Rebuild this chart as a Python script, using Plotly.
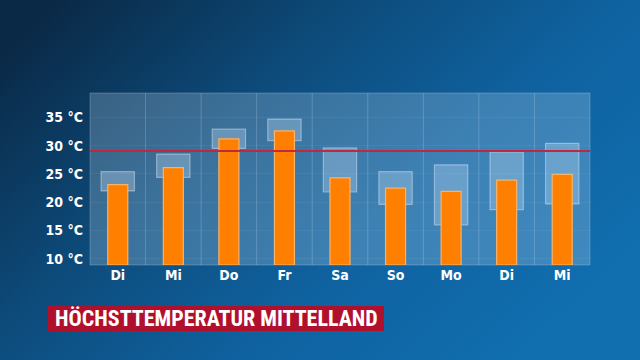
import base64
import plotly.graph_objects as go

days = ["Di", "Mi", "Do", "Fr", "Sa", "So", "Mo", "Di", "Mi"]
tmax = [23.1, 26.1, 31.2, 32.6, 24.3, 22.5, 21.9, 23.9, 24.9]
range_low = [22.0, 24.4, 29.5, 30.9, 21.8, 19.6, 16.0, 18.7, 19.7]
range_high = [25.4, 28.5, 32.9, 34.7, 29.6, 25.4, 26.6, 28.9, 30.4]
ref_line = 29.05
y_ticks = [10, 15, 20, 25, 30, 35]
y_tick_labels = ["10 °C", "15 °C", "20 °C", "25 °C", "30 °C", "35 °C"]
title_text = "HÖCHSTTEMPERATUR MITTELLAND"

Y_MIN, Y_MAX = 8.9, 39.3
x_pos = list(range(len(days)))

svg = """<svg xmlns='http://www.w3.org/2000/svg' width='640' height='360' viewBox='0 0 640 360' preserveAspectRatio='none'>
<defs>
<linearGradient id='g' x1='0' y1='0.15' x2='1' y2='0.75'>
<stop offset='0' stop-color='#0a2946'/>
<stop offset='0.35' stop-color='#0d4c7c'/>
<stop offset='0.65' stop-color='#0f62a0'/>
<stop offset='1' stop-color='#116fb0'/>
</linearGradient>
</defs>
<rect width='640' height='360' fill='url(#g)'/>
</svg>"""
src = "data:image/svg+xml;base64," + base64.b64encode(svg.encode()).decode()

L, R, T, B = 90, 50, 93, 95
W, H = 640, 360
pw, ph = W - L - R, H - T - B

def px(xp):
    return (xp - L) / pw

def py(yp):
    return (H - B - yp) / ph

fig = go.Figure()

fig.add_trace(go.Bar(
    x=x_pos, y=[h - l for h, l in zip(range_high, range_low)], base=range_low,
    width=0.6, marker=dict(color="rgba(200,225,245,0.32)",
                           line=dict(color="rgba(220,235,250,0.45)", width=1.2)),
    hoverinfo="skip", showlegend=False))

fig.add_trace(go.Bar(
    x=x_pos, y=[t - Y_MIN for t in tmax], base=Y_MIN,
    width=0.36, marker=dict(color="#ff7f00", line=dict(color="#f7b36a", width=1.2)),
    showlegend=False))

fig.add_shape(type="line", xref="paper", yref="y", x0=0, x1=1, y0=ref_line, y1=ref_line,
              line=dict(color="#c0283f", width=2), layer="above")

# plot area panel
fig.add_shape(type="rect", xref="paper", yref="paper", x0=0, x1=1, y0=0, y1=1,
              fillcolor="rgba(200,225,245,0.25)",
              line=dict(color="rgba(220,235,250,0.25)", width=1), layer="below")
# vertical separators
for i in range(1, len(days)):
    fig.add_shape(type="line", xref="x", yref="paper", x0=i - 0.5, x1=i - 0.5, y0=0, y1=1,
                  line=dict(color="rgba(220,235,250,0.22)", width=1), layer="below")

# title banner
fig.add_shape(type="rect", xref="paper", yref="paper",
              x0=px(48), x1=px(384), y0=py(331), y1=py(306),
              fillcolor="#b0102c", line=dict(width=0), layer="above")
fig.add_annotation(xref="paper", yref="paper", x=px(216), y=py(318.5),
                   text="<b>" + title_text + "</b>", showarrow=False,
                   font=dict(family="Liberation Sans Narrow, Roboto Condensed, DejaVu Sans Condensed",
                             size=22, color="white"),
                   xanchor="center", yanchor="middle")

fig.update_layout(
    width=W, height=H,
    margin=dict(l=L, r=R, t=T, b=B),
    paper_bgcolor="#0d4c7c",
    plot_bgcolor="rgba(0,0,0,0)",
    barmode="overlay",
    images=[dict(source=src, xref="paper", yref="paper", x=px(0), y=py(0),
                 sizex=W / pw, sizey=H / ph, xanchor="left", yanchor="top",
                 sizing="stretch", layer="below")],
    xaxis=dict(range=[-0.5, len(days) - 0.5], tickmode="array", tickvals=x_pos,
               ticktext=["<b>" + d + "</b>" for d in days],
               showgrid=False, zeroline=False, showline=False, ticks="",
               tickfont=dict(family="Liberation Sans Narrow, DejaVu Sans Condensed", size=14, color="white")),
    yaxis=dict(range=[Y_MIN, Y_MAX], tickmode="array", tickvals=y_ticks,
               ticktext=["<b>" + t + "</b>" for t in y_tick_labels],
               showgrid=True, gridcolor="rgba(255,255,255,0.05)", zeroline=False, showline=False,
               ticks="", ticklabelstandoff=6,
               tickfont=dict(family="Liberation Sans Narrow, DejaVu Sans Condensed", size=14, color="white")),
    font=dict(family="Liberation Sans Narrow", color="white"),
)

fig.write_html("out.html", config={"displayModeBar": False},
               post_script="document.body.style.margin='0';document.body.style.overflow='hidden';")
